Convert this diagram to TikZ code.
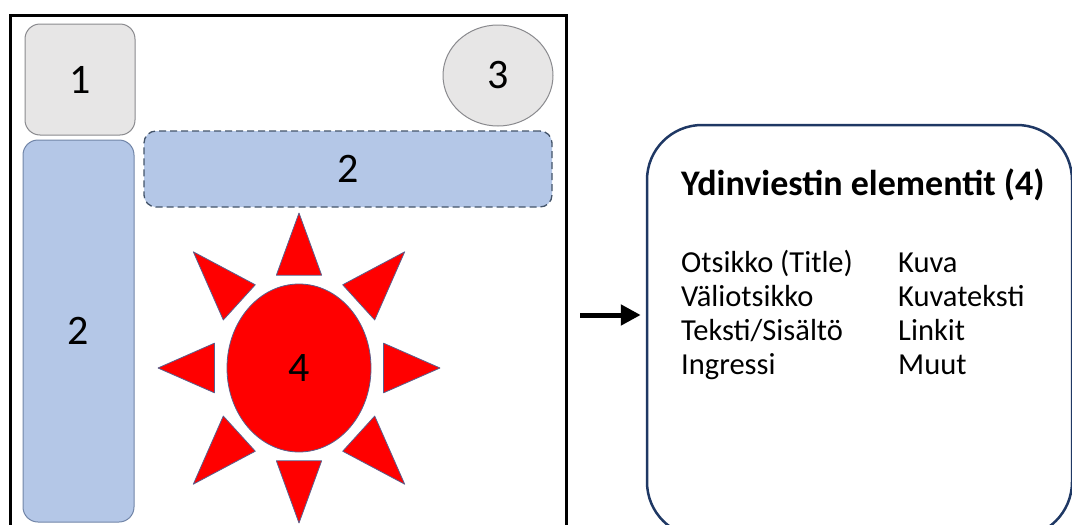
\documentclass[tikz,border=0pt]{standalone}
\usepackage{fontspec}
\setmainfont{Carlito}
\usetikzlibrary{arrows.meta, shapes.geometric, positioning}
\definecolor{panelgray}{HTML}{E7E6E6}
\definecolor{edgegray}{HTML}{8A8A8E}
\definecolor{panelblue}{HTML}{B4C7E7}
\definecolor{edgeblue}{HTML}{7185A8}
\definecolor{dashblue}{HTML}{44546A}
\definecolor{sunedge}{HTML}{5A5F8C}
\definecolor{cardedge}{HTML}{1F3864}

\begin{document}
\begin{tikzpicture}[x=1pt, y=-1pt,
    numlabel/.style={font=\fontsize{42}{50}\selectfont},
    graybox/.style={draw=edgegray, fill=panelgray, line width=1pt, inner sep=0pt, numlabel},
    bluebox/.style={draw=edgeblue, fill=panelblue, line width=1pt, rounded corners=15pt, inner sep=0pt, numlabel},
    ray/.style={draw=sunedge, fill=red, line width=0.8pt, line join=round},
    bodytext/.style={font=\fontsize{30.5}{36}\selectfont, inner sep=0pt, anchor=base west},
    arrowline/.style={line width=5pt, -{Triangle[length=20pt,width=20pt]}}]
  \useasboundingbox (0,0) rectangle (1072,525);

  % left panel
  \draw[line width=3pt] (10,15) rectangle (566,545);
  \node[graybox, rounded corners=15pt, minimum width=110pt, minimum height=111pt] (box1) at (80,79.5) {1};
  \node[graybox, ellipse, minimum width=110pt, minimum height=101pt] (circle3) at (498,75.5) {3};
  \node[bluebox, minimum width=111pt, minimum height=382pt] (bar2) at (78.5,331) {2};
  \node[bluebox, draw=dashblue, line width=1.3pt, dash pattern=on 7pt off 4pt, rounded corners=12pt,
        minimum width=408pt, minimum height=76pt] (strip2) at (348,169) {2};

  % sun
  \begin{scope}[shift={(299,368)}, xscale=141, yscale=155]
    \foreach \a in {0,90,180,270}
      \draw[ray] (\a:1) -- (\a+15:0.62) -- (\a-15:0.62) -- cycle;
    \foreach \a in {45,135,225,315}
      \draw[ray] (\a:1.06) -- (\a+15:0.62) -- (\a-15:0.62) -- cycle;
  \end{scope}
  \node[ray, ellipse, inner sep=0pt, minimum width=144pt, minimum height=168pt, numlabel] (sun4) at (299,368) {4};

  % right card
  \node[draw=cardedge, line width=2.5pt, rounded corners=55pt, minimum width=425pt, minimum height=412pt] (card) at (859.5,331) {};
  \node[bodytext, font=\fontsize{36}{42}\selectfont\bfseries] (title) at (681,195) {Ydinviestin elementit (4)};
  \foreach \txt [count=\i] in {Otsikko (Title), Väliotsikko, Teksti/Sisältö, Ingressi}
    \node[bodytext] (left\i) at (681,238+34*\i) {\txt};
  \foreach \txt [count=\i] in {Kuva, Kuvateksti, Linkit, Muut}
    \node[bodytext] (right\i) at (898,238+34*\i) {\txt};

  \coordinate (arrowtail) at (580,315);
  \draw[arrowline, shorten >=5pt] (arrowtail) -- (arrowtail -| card.west);
\end{tikzpicture}
\end{document}
